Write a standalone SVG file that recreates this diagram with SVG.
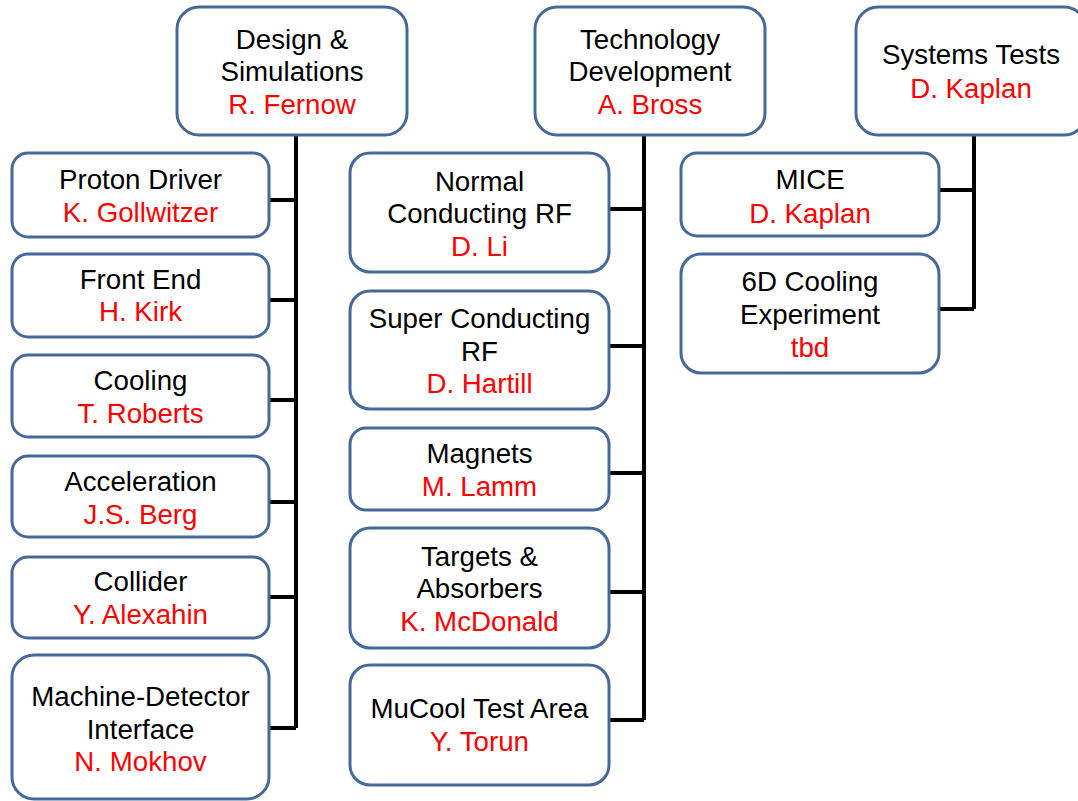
<svg xmlns="http://www.w3.org/2000/svg" width="1078" height="801" viewBox="0 0 1078 801">
<style>
.box{fill:#ffffff;stroke:#46699a;stroke-width:3}
.t{font-family:"Liberation Sans",Arial,sans-serif;font-size:27.7px;text-anchor:middle;fill:#000}
.r{fill:#ff0000}
.c{stroke:#000;stroke-width:4;fill:none}
</style>
<rect width="1078" height="801" fill="#fff"/>
<g id="connectors">
<path class="c" d="M296 135V728M269 200H296M269 300H296M269 400H296M269 502H296M269 597H296M269 728H296"/>
<path class="c" d="M644 135V720M609 209H644M609 346H644M609 473H644M609 592H644M609 720H644"/>
<path class="c" d="M974 135V309M939 190H974M939 309H974"/>
</g>
<g id="design">
<rect class="box" x="177" y="7" width="230" height="128" rx="22"/>
<text class="t" x="292" y="49">Design &amp;</text>
<text class="t" x="292" y="81">Simulations</text>
<text class="t r" x="292" y="114">R. Fernow</text>
</g>
<g id="techdev">
<rect class="box" x="535" y="7" width="230" height="128" rx="22"/>
<text class="t" x="650" y="49">Technology</text>
<text class="t" x="650" y="81">Development</text>
<text class="t r" x="650" y="114">A. Bross</text>
</g>
<g id="systests">
<rect class="box" x="856" y="7" width="230" height="128" rx="22"/>
<text class="t" x="971" y="64">Systems Tests</text>
<text class="t r" x="971" y="98">D. Kaplan</text>
</g>
<g id="proton">
<rect class="box" x="12" y="153" width="257" height="84" rx="16"/>
<text class="t" x="140.5" y="189">Proton Driver</text>
<text class="t r" x="140.5" y="222">K. Gollwitzer</text>
</g>
<g id="frontend">
<rect class="box" x="12" y="254" width="257" height="83" rx="16"/>
<text class="t" x="140.5" y="289">Front End</text>
<text class="t r" x="140.5" y="321">H. Kirk</text>
</g>
<g id="cooling">
<rect class="box" x="12" y="355" width="257" height="82" rx="16"/>
<text class="t" x="140.5" y="390">Cooling</text>
<text class="t r" x="140.5" y="423">T. Roberts</text>
</g>
<g id="accel">
<rect class="box" x="12" y="456" width="257" height="81" rx="16"/>
<text class="t" x="140.5" y="491">Acceleration</text>
<text class="t r" x="140.5" y="524">J.S. Berg</text>
</g>
<g id="collider">
<rect class="box" x="12" y="557" width="257" height="81" rx="16"/>
<text class="t" x="140.5" y="591">Collider</text>
<text class="t r" x="140.5" y="624">Y. Alexahin</text>
</g>
<g id="mdi">
<rect class="box" x="12" y="655" width="257" height="144" rx="22"/>
<text class="t" x="140.5" y="706">Machine-Detector</text>
<text class="t" x="140.5" y="739">Interface</text>
<text class="t r" x="140.5" y="771">N. Mokhov</text>
</g>
<g id="ncrf">
<rect class="box" x="350" y="153" width="259" height="119" rx="20"/>
<text class="t" x="479.5" y="191">Normal</text>
<text class="t" x="479.5" y="223">Conducting RF</text>
<text class="t r" x="479.5" y="256">D. Li</text>
</g>
<g id="scrf">
<rect class="box" x="350" y="291" width="259" height="118" rx="20"/>
<text class="t" x="479.5" y="328">Super Conducting</text>
<text class="t" x="479.5" y="361">RF</text>
<text class="t r" x="479.5" y="393">D. Hartill</text>
</g>
<g id="magnets">
<rect class="box" x="350" y="428" width="259" height="82" rx="16"/>
<text class="t" x="479.5" y="463">Magnets</text>
<text class="t r" x="479.5" y="496">M. Lamm</text>
</g>
<g id="targets">
<rect class="box" x="350" y="528" width="259" height="120" rx="20"/>
<text class="t" x="479.5" y="566">Targets &amp;</text>
<text class="t" x="479.5" y="598">Absorbers</text>
<text class="t r" x="479.5" y="631">K. McDonald</text>
</g>
<g id="mucool">
<rect class="box" x="350" y="665" width="259" height="120" rx="20"/>
<text class="t" x="479.5" y="718">MuCool Test Area</text>
<text class="t r" x="479.5" y="751">Y. Torun</text>
</g>
<g id="mice">
<rect class="box" x="681" y="153" width="258" height="83" rx="16"/>
<text class="t" x="810" y="189">MICE</text>
<text class="t r" x="810" y="223">D. Kaplan</text>
</g>
<g id="sixd">
<rect class="box" x="681" y="254" width="258" height="119" rx="20"/>
<text class="t" x="810" y="291">6D Cooling</text>
<text class="t" x="810" y="324">Experiment</text>
<text class="t r" x="810" y="357">tbd</text>
</g>
</svg>
